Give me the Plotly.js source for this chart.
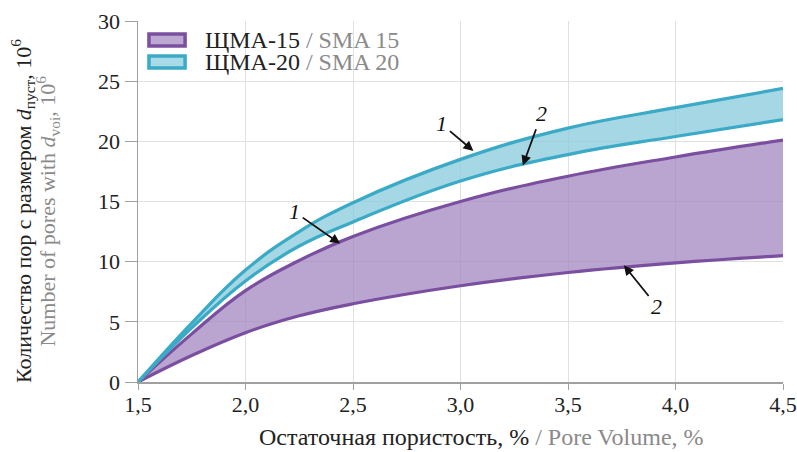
<!DOCTYPE html>
<html>
<head>
<meta charset="utf-8">
<script src="https://cdn.plot.ly/plotly-3.0.1.min.js"></script>
<style>body{margin:0;background:#fff}#chart{width:797px;height:452px}</style>
</head>
<body>
<div id="chart"></div>
<script>
// Pore volume, %
const poreVolume = [1.5, 1.75, 2.0, 2.25, 2.5, 3.0, 3.5, 4.0, 4.5];
// SMA 15 (ЩМА-15): curve 1 (upper) and curve 2 (lower), number of pores, 10^6
const sma15Curve1 = [0, 4.0, 7.6, 10.1, 12.1, 15.0, 17.1, 18.7, 20.1];
const sma15Curve2 = [0, 2.2, 4.1, 5.5, 6.5, 8.0, 9.1, 9.9, 10.5];
// SMA 20 (ЩМА-20)
const sma20Curve1 = [0, 4.9, 9.3, 12.5, 14.9, 18.5, 21.1, 22.8, 24.4];
const sma20Curve2 = [0, 4.5, 8.4, 11.3, 13.3, 16.7, 18.9, 20.4, 21.8];
const xTicks = [1.5, 2.0, 2.5, 3.0, 3.5, 4.0, 4.5];
const yTicks = [0, 5, 10, 15, 20, 25, 30];
const legendLabels = ['ЩМА-15', 'ЩМА-20'];
const legendLabelsEn = ['SMA 15', 'SMA 20'];

const purpleLine = '#7a4fa0', purpleFill = 'rgba(160,130,190,0.72)';
const cyanLine = '#3aaac6', cyanFill = 'rgba(140,204,222,0.78)';
const FONT = 'Liberation Serif, Times New Roman, serif';
const GRAY = '#8a8a8a';

const lineStyle = c => ({color: c, width: 3.2, shape: 'spline', smoothing: 1.2});
const traces = [
  {x: poreVolume, y: sma15Curve2, mode: 'lines', line: lineStyle(purpleLine), hoverinfo: 'skip'},
  {x: poreVolume, y: sma15Curve1, mode: 'lines', fill: 'tonexty', fillcolor: purpleFill, line: lineStyle(purpleLine), hoverinfo: 'skip'},
  {x: poreVolume, y: sma20Curve2, mode: 'lines', line: lineStyle(cyanLine), hoverinfo: 'skip'},
  {x: poreVolume, y: sma20Curve1, mode: 'lines', fill: 'tonexty', fillcolor: cyanFill, line: lineStyle(cyanLine), hoverinfo: 'skip'}
];

function arrowNote(text, x, y, ax, ay) {
  return {x: x, y: y, ax: ax, ay: ay, xref: 'x', yref: 'y', text: '<i>' + text + '</i>',
    showarrow: true, arrowhead: 2, arrowsize: 1.1, arrowwidth: 1.8, arrowcolor: '#111',
    standoff: 0, startstandoff: 2, font: {family: FONT, size: 22, color: '#111'}};
}

// legend (drawn as paper-referenced boxes + labels)
const legendRows = [
  {y0: 0.9307, y1: 0.964, ty: 0.947, line: purpleLine, fill: 'rgba(180,160,205,0.9)'},
  {y0: 0.8698, y1: 0.903, ty: 0.886, line: cyanLine, fill: 'rgba(160,214,228,0.9)'}
];
const legendShapes = legendRows.map(r => ({type: 'rect', xref: 'paper', yref: 'paper',
  x0: 0.0170, x1: 0.0730, y0: r.y0, y1: r.y1, line: {color: r.line, width: 3.5}, fillcolor: r.fill}));
const legendTexts = legendRows.map((r, i) => ({xref: 'paper', yref: 'paper', x: 0.1008, y: r.ty,
  xanchor: 'left', yanchor: 'middle', showarrow: false, font: {family: FONT, size: 24, color: '#222'},
  text: legendLabels[i] + ' <span style="color:' + GRAY + '">/ ' + legendLabelsEn[i] + '</span>'}));

const layout = {
  width: 797, height: 452,
  margin: {l: 138, r: 14, t: 21, b: 70},
  paper_bgcolor: '#fff', plot_bgcolor: '#fff',
  separators: ', ',
  font: {family: FONT, size: 22, color: '#222'},
  showlegend: false,
  xaxis: {range: [1.5, 4.5], tickvals: xTicks, tickformat: '.1f', showgrid: true, gridcolor: '#e0e0e0',
    showline: true, linecolor: '#a0a0a0', linewidth: 1.5, ticks: 'outside', ticklen: 6, tickcolor: '#a0a0a0',
    ticklabelstandoff: -4,
    zeroline: false, tickfont: {family: FONT, size: 22, color: '#222'}},
  yaxis: {range: [0, 30], tickvals: yTicks, showgrid: true, gridcolor: '#e0e0e0',
    showline: true, linecolor: '#a0a0a0', linewidth: 1.5, ticks: 'outside', ticklen: 12, tickcolor: '#a0a0a0',
    zeroline: false, tickfont: {family: FONT, size: 22, color: '#222'}},
  shapes: legendShapes,
  annotations: [
    arrowNote('1', 3.06, 19.2, -32, -27),
    arrowNote('2', 3.29, 18.0, 19, -52),
    arrowNote('1', 2.44, 11.5, -46, -32),
    arrowNote('2', 3.76, 9.7, 33, 41),
    {xref: 'paper', yref: 'paper', x: 0.5326, y: -0.152, xanchor: 'center', yanchor: 'middle',
     showarrow: false, font: {family: FONT, size: 24, color: '#222'},
     text: 'Остаточная пористость, % <span style="color:' + GRAY + '">/ Pore Volume, %</span>'},
    {xref: 'paper', yref: 'paper', x: -0.178, y: 0.474, xanchor: 'center', yanchor: 'middle', textangle: -90,
     showarrow: false, font: {family: FONT, size: 22, color: '#222'},
     text: 'Количество пор с размером <i>d</i><sub>пуст</sub>, 10<sup>6</sup>'},
    {xref: 'paper', yref: 'paper', x: -0.140, y: 0.474, xanchor: 'center', yanchor: 'middle', textangle: -90,
     showarrow: false, font: {family: FONT, size: 22, color: GRAY},
     text: 'Number of pores with <i>d</i><sub>voi</sub>, 10<sup>6</sup>'}
  ].concat(legendTexts)
};

Plotly.newPlot('chart', traces, layout, {displayModeBar: false, staticPlot: true});
</script>
</body>
</html>
